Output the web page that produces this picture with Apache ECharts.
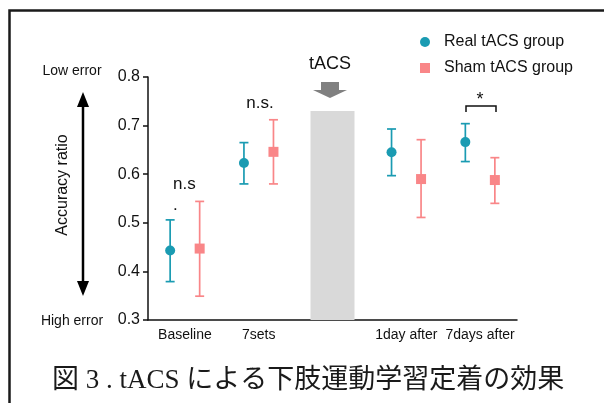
<!DOCTYPE html>
<html>
<head>
<meta charset="utf-8">
<script src="https://cdn.jsdelivr.net/npm/echarts@6/dist/echarts.min.js"></script>
<style>
  html, body { margin: 0; padding: 0; background: #fff; }
  #chart { width: 604px; height: 403px; }
</style>
</head>
<body>
<div id="chart"></div>
<script>
// data
const categories = ['Baseline', '7sets', '', '1day after', '7days after']
const realMean = [0.443, 0.623, null, 0.645, 0.666]
const realLow = [0.379, 0.580, null, 0.597, 0.626]
const realHigh = [0.506, 0.665, null, 0.693, 0.704]
const shamMean = [0.447, 0.646, null, 0.590, 0.588]
const shamLow = [0.349, 0.580, null, 0.511, 0.540]
const shamHigh = [0.544, 0.712, null, 0.671, 0.634]
const tacsBar = [null, null, 0.73, null, null]
const yTicks = [0.3, 0.4, 0.5, 0.6, 0.7, 0.8]

const TEAL = '#1a9bb2'
const PINK = '#f98688'
const FONT = "'Liberation Sans', Arial, sans-serif"

function points(mean, low, high, shift) {
  const out = []
  for (let i = 0; i < mean.length; i++) {
    if (mean[i] == null) continue
    out.push([i + 0.5 + shift, mean[i], low[i], high[i]])
  }
  return out
}
const realPts = points(realMean, realLow, realHigh, -0.2)
const shamPts = points(shamMean, shamLow, shamHigh, 0.2)

function errorBars(color) {
  return function (params, api) {
    const x = api.value(0)
    const lo = api.coord([x, api.value(2)])
    const hi = api.coord([x, api.value(3)])
    const hw = 4.5
    const style = { stroke: color, lineWidth: 1.7 }
    return {
      type: 'group',
      children: [
        { type: 'line', shape: { x1: lo[0], y1: lo[1], x2: hi[0], y2: hi[1] }, style: style },
        { type: 'line', shape: { x1: hi[0] - hw, y1: hi[1], x2: hi[0] + hw, y2: hi[1] }, style: style },
        { type: 'line', shape: { x1: lo[0] - hw, y1: lo[1], x2: lo[0] + hw, y2: lo[1] }, style: style }
      ]
    }
  }
}

const chart = echarts.init(document.getElementById('chart'))
chart.setOption({
  animation: false,
  backgroundColor: '#fff',
  textStyle: { fontFamily: FONT },
  grid: { left: 148, right: 87, top: 77, bottom: 83 },
  legend: {
    orient: 'vertical',
    left: 415,
    top: 29,
    itemWidth: 10,
    itemHeight: 10,
    itemGap: 10,
    textStyle: { fontSize: 16, color: '#111', fontFamily: FONT, padding: [0, 0, 0, 9] },
    data: [
      { name: 'Real tACS group', icon: 'circle' },
      { name: 'Sham tACS group', icon: 'rect' }
    ]
  },
  xAxis: [
    {
      type: 'category',
      data: categories,
      axisLine: { lineStyle: { color: '#111', width: 1.5 } },
      axisTick: {
        alignWithLabel: true,
        length: 5,
        interval: function (i) { return categories[i] !== '' },
        lineStyle: { color: '#111', width: 1.5 }
      },
      axisLabel: { fontSize: 14, color: '#111', margin: 8, interval: 0 }
    },
    { type: 'value', min: 0, max: 5, show: false }
  ],
  yAxis: {
    type: 'value',
    min: yTicks[0],
    max: yTicks[yTicks.length - 1],
    interval: 0.1,
    splitLine: { show: false },
    axisLine: { show: true, lineStyle: { color: '#111', width: 1.5 } },
    axisTick: { show: true, length: 5, lineStyle: { color: '#111', width: 1.5 } },
    axisLabel: { fontSize: 16, color: '#111', margin: 8, formatter: v => v.toFixed(1) }
  },
  series: [
    {
      name: 'tACS',
      type: 'bar',
      data: tacsBar,
      barWidth: 44,
      itemStyle: { color: '#d9d9d9' },
      silent: true
    },
    {
      type: 'custom',
      xAxisIndex: 1,
      renderItem: errorBars(TEAL),
      encode: { x: 0, y: [2, 3] },
      data: realPts,
      z: 3
    },
    {
      type: 'custom',
      xAxisIndex: 1,
      renderItem: errorBars(PINK),
      encode: { x: 0, y: [2, 3] },
      data: shamPts,
      z: 3
    },
    {
      name: 'Real tACS group',
      type: 'scatter',
      xAxisIndex: 1,
      symbol: 'circle',
      symbolSize: 10,
      itemStyle: { color: TEAL, opacity: 1 },
      data: realPts.map(p => [p[0], p[1]]),
      z: 5
    },
    {
      name: 'Sham tACS group',
      type: 'scatter',
      xAxisIndex: 1,
      symbol: 'rect',
      symbolSize: 10,
      itemStyle: { color: PINK, opacity: 1 },
      data: shamPts.map(p => [p[0], p[1]]),
      z: 5
    }
  ],
  graphic: [
    // outer frame
    { type: 'polyline', shape: { points: [[9.5, 403], [9.5, 10.5], [604, 10.5]] }, style: { stroke: '#1a1a1a', lineWidth: 2.5, fill: null } },
    // tACS label and arrow
    { type: 'text', x: 330, y: 64, style: { text: 'tACS', font: '18px ' + FONT, fill: '#111', textAlign: 'center', textVerticalAlign: 'middle' } },
    { type: 'polygon', shape: { points: [[321, 82], [339, 82], [339, 90], [347, 90], [330, 98], [313, 90], [321, 90]] }, style: { fill: '#808080' } },
    // significance marks
    { type: 'text', x: 173, y: 174, style: { text: 'n.s\n.', font: '17px ' + FONT, lineHeight: 21, fill: '#111', textAlign: 'left', textVerticalAlign: 'top' } },
    { type: 'text', x: 260, y: 103, style: { text: 'n.s.', font: '17px ' + FONT, fill: '#111', textAlign: 'center', textVerticalAlign: 'middle' } },
    { type: 'text', x: 480, y: 100, style: { text: '*', font: '18px ' + FONT, fill: '#111', textAlign: 'center', textVerticalAlign: 'middle' } },
    { type: 'polyline', shape: { points: [[466, 112], [466, 106], [496, 106], [496, 112]] }, style: { stroke: '#111', lineWidth: 1.5, fill: null } },
    // left annotations
    { type: 'text', x: 72, y: 71, style: { text: 'Low error', font: '14px ' + FONT, fill: '#111', textAlign: 'center', textVerticalAlign: 'middle' } },
    { type: 'text', x: 72, y: 321, style: { text: 'High error', font: '14px ' + FONT, fill: '#111', textAlign: 'center', textVerticalAlign: 'middle' } },
    { type: 'line', shape: { x1: 83, y1: 100, x2: 83, y2: 288 }, style: { stroke: '#000', lineWidth: 2.5 } },
    { type: 'polygon', shape: { points: [[83, 92], [89, 107], [77, 107]] }, style: { fill: '#000' } },
    { type: 'polygon', shape: { points: [[83, 296], [89, 281], [77, 281]] }, style: { fill: '#000' } },
    { type: 'text', x: 63, y: 185, rotation: Math.PI / 2, style: { text: 'Accuracy ratio', font: '16px ' + FONT, fill: '#111', textAlign: 'center', textVerticalAlign: 'middle' } },
    // caption
    { type: 'text', x: 52, y: 381, style: { text: '図 3 . tACS による下肢運動学習定着の効果', font: "27px 'Liberation Serif', 'Noto Sans CJK JP', serif", fill: '#1a1a1a', textAlign: 'left', textVerticalAlign: 'middle' } }
  ]
})
</script>
</body>
</html>
